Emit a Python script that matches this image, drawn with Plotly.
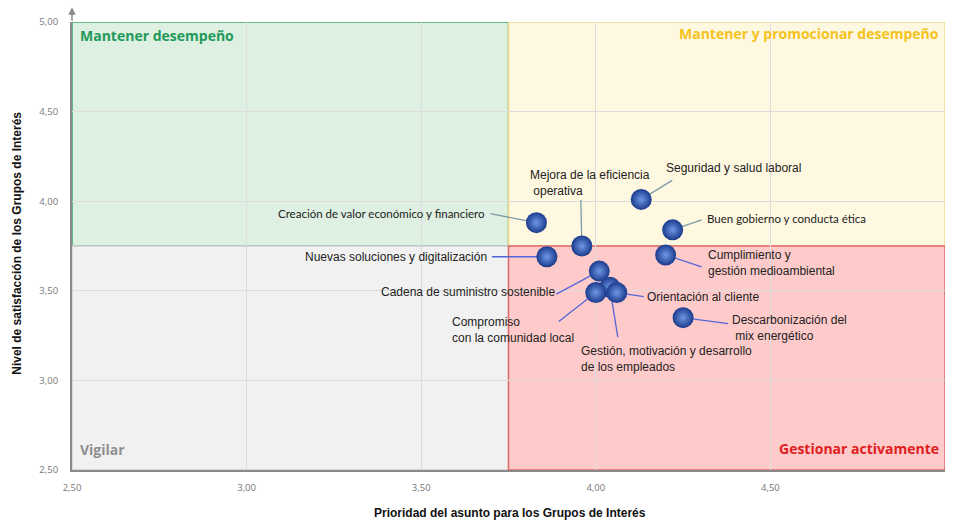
import plotly.graph_objects as go

# ---- data ----
temas = [
    "Gestión, motivación y desarrollo<br>de los empleados",
    "Creación de valor económico y financiero",
    "Nuevas soluciones y digitalización",
    "Mejora de la eficiencia<br> operativa",
    "Seguridad y salud laboral",
    "Buen gobierno y conducta ética",
    "Cumplimiento y<br>gestión medioambiental",
    "Cadena de suministro sostenible",
    "Compromiso<br>con la comunidad local",
    "Orientación al cliente",
    "Descarbonización del<br> mix energético",
]
prioridad = [4.04, 3.83, 3.86, 3.96, 4.13, 4.22, 4.20, 4.01, 4.00, 4.06, 4.25]
satisfaccion = [3.52, 3.88, 3.69, 3.75, 4.01, 3.84, 3.70, 3.61, 3.49, 3.49, 3.35]

tick_vals = [2.5, 3.0, 3.5, 4.0, 4.5, 5.0]
umbral = 3.75
x_rango = [2.5, 5.0]
y_rango = [2.5, 5.0]

cuadrantes = ["Mantener desempeño", "Mantener y promocionar desempeño", "Vigilar", "Gestionar activamente"]

# ---- label layout (pixel offsets relative to each point: text dx, dy, anchor, line end lx, ly) ----
BLUE = "#5566d8"
GREY = "#7d9ca6"
label_cfg = [
    dict(dx=-31, dy=72, anchor="left", lx=8, ly=50, lc=BLUE, font="Liberation Sans", size=12),
    dict(dx=-49, dy=-9, anchor="right", lx=-46, ly=-9, lc=GREY, font="Lato", size=11.5),
    dict(dx=-58, dy=0, anchor="right", lx=-55, ly=0, lc=BLUE, font="Liberation Sans", size=12),
    dict(dx=-54, dy=-63, anchor="left", lx=-1, ly=-46, lc=GREY, font="Liberation Sans", size=12),
    dict(dx=23, dy=-31, anchor="left", lx=31, ly=-19, lc=GREY, font="Liberation Sans", size=12),
    dict(dx=32, dy=-11, anchor="left", lx=29, ly=-10, lc=GREY, font="Lato", size=11.5),
    dict(dx=40, dy=8, anchor="left", lx=36, ly=12, lc=BLUE, font="Liberation Sans", size=12),
    dict(dx=-42, dy=21, anchor="right", lx=-43, ly=23, lc=BLUE, font="Liberation Sans", size=12),
    dict(dx=-146, dy=37, anchor="left", lx=-37, ly=29, lc=BLUE, font="Liberation Sans", size=12),
    dict(dx=28, dy=4, anchor="left", lx=27, ly=4, lc=BLUE, font="Liberation Sans", size=12),
    dict(dx=47, dy=10, anchor="left", lx=45, ly=6, lc=BLUE, font="Liberation Sans", size=12),
]

fig = go.Figure()

fig.add_trace(go.Scatter(
    x=prioridad, y=satisfaccion, mode="markers",
    marker=dict(size=21, color="#1b3a8c",
                gradient=dict(type="radial", color="#6d98e4"),
                line=dict(width=0)),
    hoverinfo="text", text=temas, showlegend=False, cliponaxis=False,
))

shapes = []
# quadrant rectangles
rects = [
    (x_rango[0], umbral, umbral, y_rango[1], "#ddf0e1", "#3fa86e"),
    (umbral, x_rango[1], umbral, y_rango[1], "#fff8e1", "#f0d98c"),
    (x_rango[0], umbral, y_rango[0], umbral, "#f1f1f1", "#cfcfcf"),
    (umbral, x_rango[1], y_rango[0], umbral, "#ffcaca", "#e06a6a"),
]
for x0, x1, y0, y1, fc, lc in rects:
    shapes.append(dict(type="rect", xref="x", yref="y", x0=x0, x1=x1, y0=y0, y1=y1,
                       fillcolor=fc, line=dict(color=lc, width=1.5), layer="below"))

annotations = []
for t, x, y, c in zip(temas, prioridad, satisfaccion, label_cfg):
    shapes.append(dict(type="line", xref="x", yref="y", xsizemode="pixel", ysizemode="pixel",
                       xanchor=x, yanchor=y, x0=0, y0=0, x1=c["lx"], y1=-c["ly"],
                       line=dict(color=c["lc"], width=1.3), layer="between"))
    annotations.append(dict(x=x, y=y, xref="x", yref="y", text=t, showarrow=False,
                            xanchor=c["anchor"], yanchor="middle", align="left",
                            xshift=c["dx"], yshift=-c["dy"],
                            font=dict(family=c["font"], size=c["size"], color="#222")))

# quadrant titles
qfont = "Open Sans"
annotations += [
    dict(x=0.007, y=0.97, xref="paper", yref="paper", text="<b>" + cuadrantes[0] + "</b>",
         showarrow=False, xanchor="left", yanchor="middle",
         font=dict(family=qfont, size=14, color="#1f9a5a")),
    dict(x=0.995, y=0.975, xref="paper", yref="paper", text="<b>" + cuadrantes[1] + "</b>",
         showarrow=False, xanchor="right", yanchor="middle",
         font=dict(family=qfont, size=14, color="#f5c21b")),
    dict(x=0.007, y=0.045, xref="paper", yref="paper", text="<b>" + cuadrantes[2] + "</b>",
         showarrow=False, xanchor="left", yanchor="middle",
         font=dict(family=qfont, size=14, color="#8f8f8f")),
    dict(x=0.995, y=0.047, xref="paper", yref="paper", text="<b>" + cuadrantes[3] + "</b>",
         showarrow=False, xanchor="right", yanchor="middle",
         font=dict(family=qfont, size=14, color="#e0201e")),
    # axis titles
    dict(x=0.502, y=-0.096, xref="paper", yref="paper",
         text="<b>Prioridad del asunto para los Grupos de Interés</b>",
         showarrow=False, xanchor="center", yanchor="middle",
         font=dict(family="Liberation Sans", size=12, color="#111")),
    dict(x=-0.063, y=0.505, xref="paper", yref="paper", textangle=-90,
         text="<b>Nivel de satisfacción de los Grupos de Interés</b>",
         showarrow=False, xanchor="center", yanchor="middle",
         font=dict(family="Liberation Sans", size=12, color="#111")),
    # arrow on y axis
    dict(x=x_rango[0], y=1.033, xref="x", yref="paper", text="", showarrow=True,
         ax=0, ay=15, arrowhead=2, arrowsize=1, arrowwidth=1.5, arrowcolor="#8a8a8a"),
]

fig.update_layout(
    width=953, height=522,
    margin=dict(l=72, r=8, t=22, b=52),
    paper_bgcolor="white", plot_bgcolor="white",
    separators=", ",
    shapes=shapes, annotations=annotations,
    xaxis=dict(range=x_rango, tickvals=tick_vals, tickformat=".2f",
               showgrid=True, gridcolor="#dcdcdc", gridwidth=1, zeroline=False,
               showline=True, linecolor="#8a8a8a", linewidth=2,
               ticks="", ticklabelstandoff=8,
               tickfont=dict(family="Open Sans", size=9.5, color="#777")),
    yaxis=dict(range=y_rango, tickvals=tick_vals, tickformat=".2f",
               showgrid=True, gridcolor="#dcdcdc", gridwidth=1, zeroline=False,
               showline=True, linecolor="#8a8a8a", linewidth=2,
               ticks="", ticklabelstandoff=10,
               tickfont=dict(family="Open Sans", size=9.5, color="#777")),
)

fig.write_html("out.html", config={"displayModeBar": False},
               post_script="document.body.style.margin='0px';document.body.style.overflow='hidden';")
